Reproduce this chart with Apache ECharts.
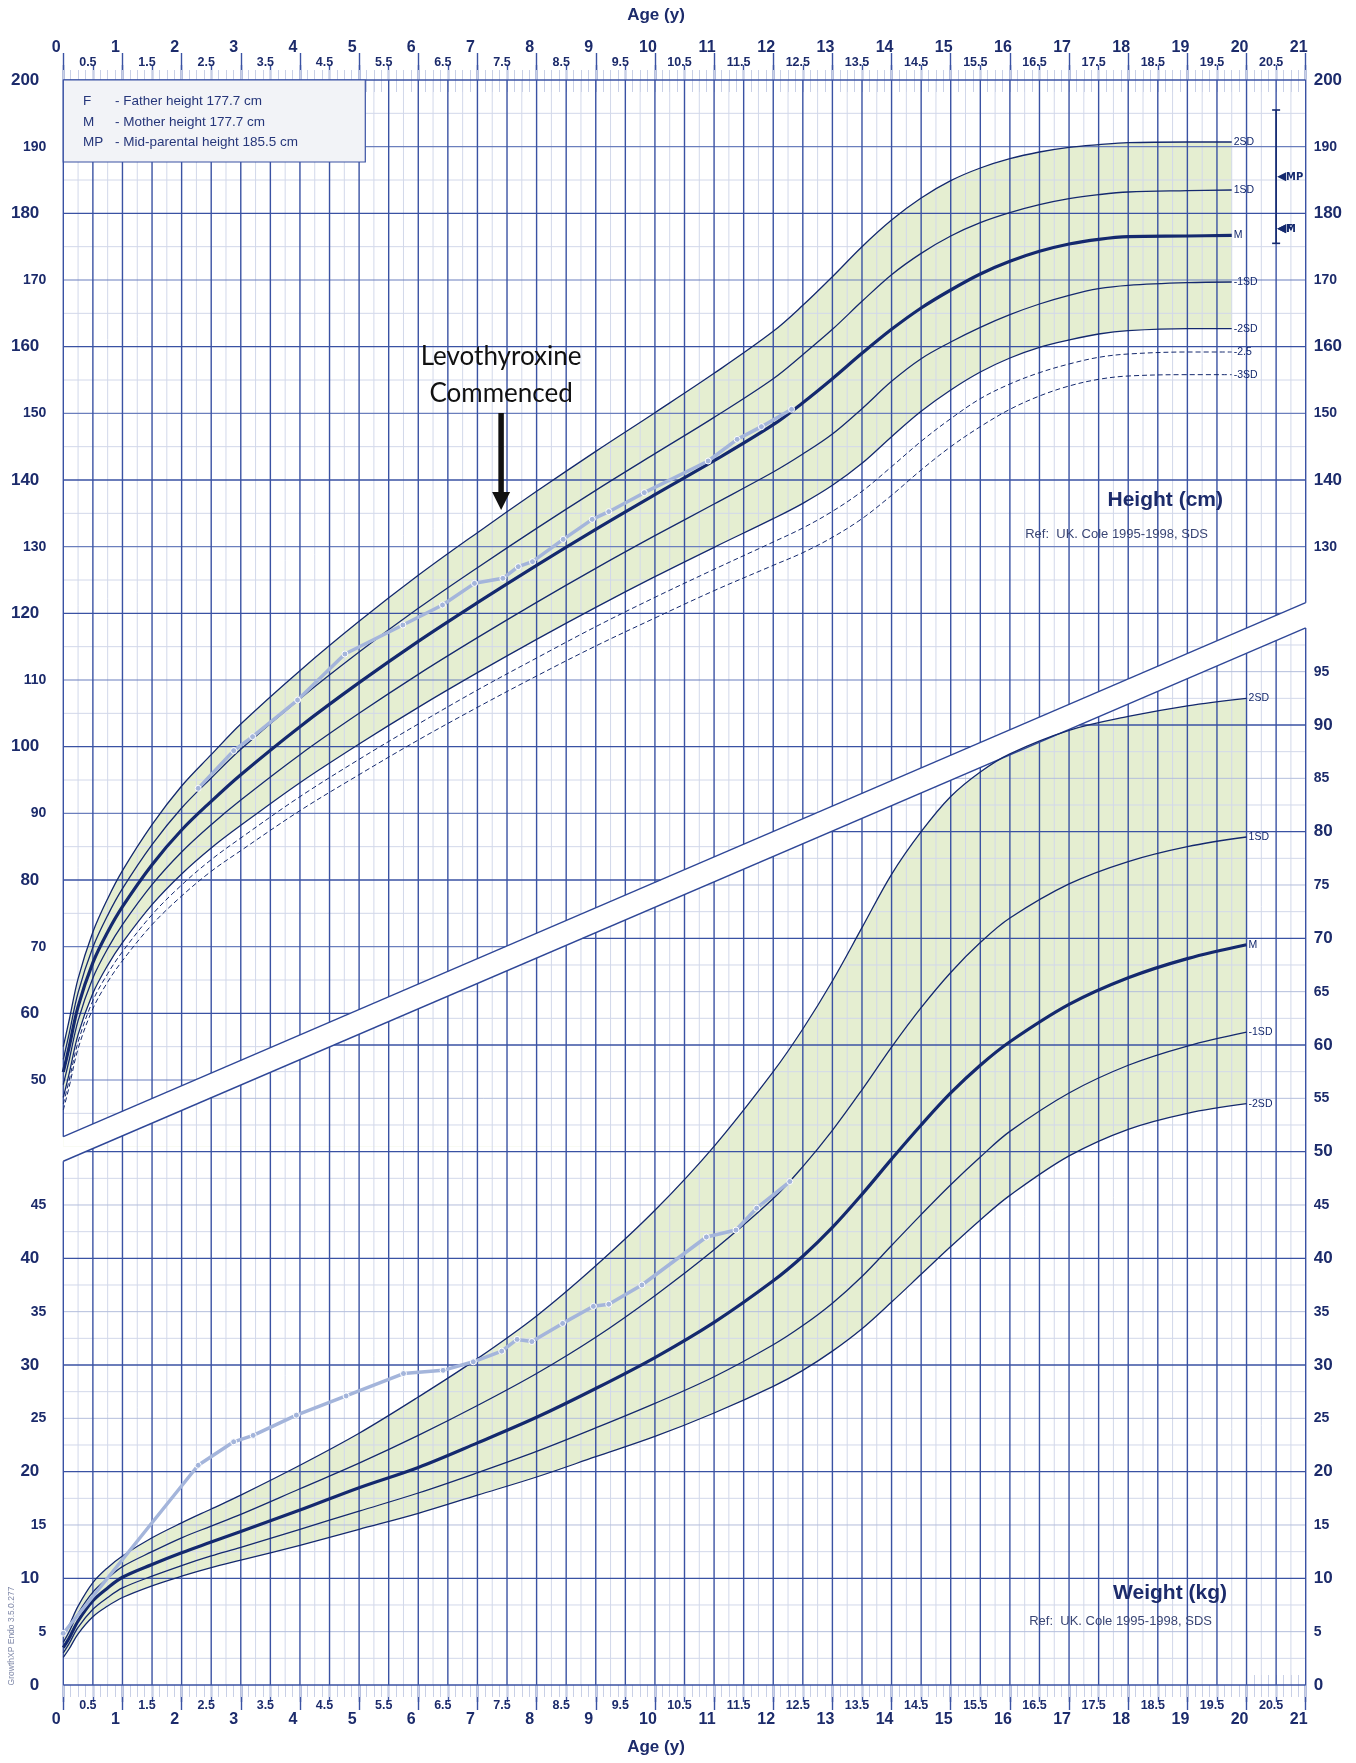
<!DOCTYPE html>
<html><head><meta charset="utf-8">
<script src="https://cdn.jsdelivr.net/npm/echarts@6/dist/echarts.min.js"></script>
<style>html,body{margin:0;padding:0;background:#fff}#c{width:1356px;height:1763px}</style>
</head><body><div id="c"></div><script>
// ---------- DATA ----------
const hAge = [0, 0.1, 0.25, 0.5, 0.75, 1, 1.5, 2, 2.5, 3, 4, 5, 6, 7, 8, 9, 10, 11, 12, 12.5, 13, 13.5, 14, 14.5, 15, 15.5, 16, 16.5, 17, 17.5, 18, 19, 19.75];
const hP2  = [55.0, 59.0, 65.2, 72.2, 77.2, 81.4, 88.3, 94.1, 98.8, 103.4, 111.4, 118.8, 125.7, 132.1, 138.3, 144.3, 150.1, 156.0, 162.3, 166.2, 170.5, 175.0, 179.0, 182.3, 184.9, 186.8, 188.2, 189.2, 189.9, 190.3, 190.6, 190.7, 190.7];
const hP1  = [53.1, 57.0, 63.1, 69.9, 74.7, 78.7, 85.3, 90.8, 95.3, 99.6, 107.2, 114.2, 120.75, 126.85, 132.75, 138.45, 143.95, 149.4, 155.2, 158.8, 162.6, 166.8, 170.8, 174.0, 176.6, 178.6, 180.1, 181.3, 182.2, 182.8, 183.2, 183.4, 183.5];
const hM   = [51.2, 55.0, 61.0, 67.6, 72.2, 76.0, 82.3, 87.5, 91.8, 95.8, 103.0, 109.6, 115.8, 121.6, 127.2, 132.6, 137.8, 142.9, 148.3, 151.6, 155.2, 159.0, 162.6, 165.8, 168.5, 170.9, 172.8, 174.3, 175.4, 176.1, 176.5, 176.6, 176.7];
const hN1  = [49.3, 53.0, 58.9, 65.3, 69.7, 73.3, 79.3, 84.2, 88.3, 92.0, 98.8, 105.0, 110.85, 116.35, 121.65, 126.75, 131.65, 136.4, 141.2, 143.9, 146.9, 150.7, 154.8, 158.2, 160.7, 162.9, 164.8, 166.4, 167.7, 168.7, 169.2, 169.6, 169.7];
const hN2  = [47.4, 51.0, 56.8, 63.0, 67.2, 70.6, 76.3, 80.9, 84.8, 88.2, 94.6, 100.4, 105.9, 111.1, 116.1, 120.9, 125.5, 129.9, 134.2, 136.5, 139.2, 142.5, 146.5, 150.3, 153.5, 156.2, 158.3, 159.9, 161.0, 161.9, 162.4, 162.7, 162.7];
const hN25 = [46.4, 50.0, 55.7, 61.9, 65.95, 69.25, 74.8, 79.25, 83.05, 86.3, 92.5, 98.1, 103.4, 108.5, 113.3, 118.0, 122.4, 126.6, 130.7, 132.8, 135.3, 138.3, 142.0, 145.8, 149.2, 152.2, 154.4, 156.1, 157.4, 158.4, 158.9, 159.2, 159.2];
const hN3  = [45.5, 49.0, 54.7, 60.7, 64.7, 67.9, 73.3, 77.6, 81.3, 84.4, 90.4, 95.8, 101.0, 105.9, 110.6, 115.1, 119.3, 123.4, 127.2, 129.1, 131.4, 134.2, 137.7, 141.5, 145.0, 148.0, 150.6, 152.6, 154.1, 155.1, 155.6, 155.8, 155.8];

const wAge = [0, 0.1, 0.25, 0.5, 0.75, 1, 1.5, 2, 2.5, 3, 4, 5, 6, 7, 8, 9, 10, 11, 12, 12.5, 13, 13.5, 14, 14.5, 15, 15.5, 16, 17, 18, 19, 20];
const wP2 = [4.5, 5.6, 7.4, 9.6, 11.0, 12.1, 13.8, 15.2, 16.5, 17.8, 20.6, 23.6, 27.0, 30.6, 34.6, 39.3, 44.5, 50.5, 57.5, 61.5, 66.0, 71.0, 76.0, 80.0, 83.3, 85.6, 87.3, 89.5, 90.8, 91.8, 92.5];
const wP1 = [4.0, 5.0, 6.7, 8.7, 10.0, 11.1, 12.5, 13.8, 14.9, 16.0, 18.4, 20.8, 23.4, 26.2, 29.2, 32.6, 36.5, 40.8, 45.6, 48.6, 52.0, 55.8, 59.8, 63.5, 66.8, 69.6, 71.9, 75.1, 77.2, 78.6, 79.5];
const wM  = [3.5, 4.4, 6.0, 7.9, 9.1, 10.1, 11.3, 12.4, 13.4, 14.4, 16.4, 18.5, 20.4, 22.7, 25.1, 27.8, 30.7, 34.0, 37.9, 40.2, 42.9, 46.0, 49.3, 52.5, 55.5, 58.1, 60.3, 63.8, 66.3, 68.1, 69.4];
const wN1 = [3.0, 3.9, 5.4, 7.1, 8.2, 9.1, 10.2, 11.2, 12.1, 12.9, 14.6, 16.3, 18.0, 19.9, 21.9, 24.1, 26.4, 28.9, 31.9, 33.7, 35.8, 38.3, 41.2, 44.1, 46.9, 49.5, 51.9, 55.5, 58.1, 59.9, 61.2];
const wN2 = [2.6, 3.4, 4.8, 6.4, 7.4, 8.2, 9.3, 10.2, 11.0, 11.7, 13.1, 14.6, 16.1, 17.8, 19.5, 21.4, 23.3, 25.5, 28.0, 29.5, 31.3, 33.4, 35.9, 38.5, 41.1, 43.6, 45.9, 49.6, 52.1, 53.6, 54.5];

const ptHAge = [2.28, 2.88, 3.2, 3.96, 4.76, 5.74, 6.41, 6.95, 7.43, 7.69, 7.93, 8.45, 8.94, 9.22, 9.82, 10.9, 11.39, 11.8, 12.31];
const ptH    = [93.75, 99.4, 101.5, 107.0, 113.9, 118.25, 121.25, 124.5, 125.25, 127.0, 127.75, 131.1, 134.1, 135.25, 138.1, 142.85, 146.1, 148.0, 150.6];
const ptWAge = [0, 2.28, 2.88, 3.21, 3.94, 4.78, 5.75, 6.42, 6.93, 7.41, 7.67, 7.92, 8.44, 8.96, 9.22, 9.78, 10.87, 11.37, 11.72, 12.28];
const ptW    = [4.85, 20.6, 22.8, 23.4, 25.3, 27.1, 29.2, 29.5, 30.3, 31.3, 32.4, 32.2, 33.9, 35.5, 35.7, 37.5, 42.0, 42.65, 44.7, 47.2];

// chart structure
const bandTopH = [[0, 41.5], [21, 121.6]];     // upper edge of the white band (height scale)
const bandBottomW = [[0, 49.1], [21, 99.1]];   // lower edge of the white band (weight scale)
const parentMarks = [{name: 'MP', h: 185.5}, {name: 'F', h: 177.7}, {name: 'M', h: 177.7}];
const mpRange = [175.5, 195.5];
const markerAge = 20.5;
const legendRows = [['F', '- Father height 177.7 cm'], ['M', '- Mother height 177.7 cm'], ['MP', '- Mid-parental height 185.5 cm']];
const levoAge = 7.4, levoTipH = 135.5;

// ---------- STYLE ----------
const FF = '"Liberation Sans", Arial, sans-serif';
const NAVY = '#1c2b6b';
const CURVE = '#14296e';
const GREEN = '#e5eed1';
const PATIENT = '#a4b5db';
const SMOOTH = 0.35;
const GS = [
  {stroke: '#3a52a3', lineWidth: 1.4},
  {stroke: '#6b7fbd', lineWidth: 1.1},
  {stroke: '#b4bedc', lineWidth: 1},
  {stroke: '#d2d8ea', lineWidth: 1}
];

function zip(xs, ys) { return xs.map((x, i) => [x, ys[i]]); }

const bT0 = bandTopH[0][1], bT1 = bandTopH[1][1];
const bB0 = bandBottomW[0][1], bB1 = bandBottomW[1][1];

// grid-line definitions: [x, y, class, kind(0=horizontal,1=vertical)]
const hLines = [], wLines = [];
for (let h = 45; h <= 200; h += 5) hLines.push([0, h, h % 20 === 0 ? 0 : (h % 10 === 0 ? 1 : 3), 0]);
for (let i = 0; i <= 84; i++) { const a = i * 0.25; hLines.push([a, 200, i % 2 === 0 ? 0 : 3, 1]); wLines.push([a, 0, i % 2 === 0 ? 0 : 3, 1]); }
for (let i = 0; i <= 40; i++) { const w = i * 2.5; wLines.push([0, w, w % 10 === 0 ? 0 : (w % 5 === 0 ? 2 : 3), 0]); }
hLines.sort((a, b) => b[2] - a[2]);
wLines.sort((a, b) => b[2] - a[2]);

function seg(api, a, b, st) {
  const p = api.coord(a), q = api.coord(b);
  return {type: 'line', shape: {x1: p[0], y1: p[1], x2: q[0], y2: q[1]}, style: st};
}

const chart = echarts.init(document.getElementById('c'));

const topBase = {gridIndex: 0, type: 'value', min: 0, max: 21, position: 'top', axisLine: {show: false, onZero: false}, splitLine: {show: false}};
const botBase = {gridIndex: 1, type: 'value', min: 0, max: 21, position: 'bottom', axisLine: {show: false, onZero: false}, splitLine: {show: false}};
const intLbl = {fontSize: 16, fontWeight: 'bold', color: NAVY, fontFamily: FF, padding: [0, 14, 0, 0]};
const halfLbl = {fontSize: 12.5, fontWeight: 'bold', color: NAVY, fontFamily: FF, padding: [0, 10, 0, 0],
  formatter: v => (Math.abs(v % 1) < 1e-9) ? '' : String(v)};
const darkTick = {color: '#3a52a3', width: 1.4};
const lightTick = {color: '#c9d0e6', width: 1};

function yLbl(limitFn, side) {
  const leftSide = side === 'h' || side === 'w';
  const bigStep = (side === 'h' || side === 'hr') ? 20 : 10;
  return {
    margin: leftSide ? 17 : 8,
    formatter: v => limitFn(v) ? '' : (v % bigStep === 0 ? '{b|' + v + '}' : '{s|' + v + '}'),
    rich: {
      b: {fontSize: 17, fontWeight: 'bold', color: NAVY, fontFamily: FF, padding: leftSide ? [0, 7, 0, 0] : 0},
      s: {fontSize: 14, fontWeight: 'bold', color: NAVY, fontFamily: FF}
    }
  };
}
const yBase = {type: 'value', axisLine: {show: false}, axisTick: {show: false}, splitLine: {show: false}};

function curve(name, xs, ys, g, opt) {
  opt = opt || {};
  return {
    type: 'line', name: name, xAxisIndex: g ? 4 : 0, yAxisIndex: g ? 2 : 0,
    data: zip(xs, ys), smooth: SMOOTH, symbol: 'none', z: 4, silent: true,
    lineStyle: {color: CURVE, width: opt.width || 1.3, type: opt.dash ? [5, 3] : 'solid'},
    endLabel: {show: true, formatter: opt.label, color: CURVE, fontSize: 10.5, fontFamily: FF, distance: 2}
  };
}
function areaFill(xs, ys, g, color) {
  return {
    type: 'line', xAxisIndex: g ? 4 : 0, yAxisIndex: g ? 2 : 0, data: zip(xs, ys), smooth: SMOOTH,
    symbol: 'none', z: 1, silent: true, lineStyle: {width: 0, opacity: 0},
    areaStyle: {color: color, opacity: 1, origin: 'start'}
  };
}
function patient(xs, ys, g) {
  return {type: 'line', xAxisIndex: g ? 4 : 0, yAxisIndex: g ? 2 : 0, data: zip(xs, ys), z: 5,
    symbol: 'circle', symbolSize: 6, silent: true,
    lineStyle: {color: PATIENT, width: 3.5},
    itemStyle: {color: PATIENT, borderColor: '#ffffff', borderWidth: 1}};
}

const option = {
  animation: false,
  grid: [
    {left: 63.3, top: 80, width: 1242.4, height: 1066.67},
    {left: 63.3, top: 618.33, width: 1242.4, height: 1066.67}
  ],
  xAxis: [
    Object.assign({}, topBase, {interval: 1, axisTick: {length: 27, lineStyle: darkTick}, axisLabel: Object.assign({margin: 24}, intLbl)}),
    Object.assign({}, topBase, {interval: 0.5, axisTick: {length: 15, lineStyle: darkTick}, axisLabel: Object.assign({margin: 11}, halfLbl)}),
    Object.assign({}, topBase, {interval: 0.125, axisTick: {length: 10, lineStyle: lightTick}, axisLabel: {show: false}}),
    Object.assign({}, topBase, {interval: 0.125, axisTick: {inside: true, length: 12, lineStyle: lightTick}, axisLabel: {show: false}}),
    Object.assign({}, botBase, {interval: 1, axisTick: {length: 25, lineStyle: darkTick}, axisLabel: Object.assign({margin: 27}, intLbl)}),
    Object.assign({}, botBase, {interval: 0.5, axisTick: {length: 17, lineStyle: darkTick}, axisLabel: Object.assign({margin: 14}, halfLbl)}),
    Object.assign({}, botBase, {interval: 0.125, axisTick: {length: 12, lineStyle: lightTick}, axisLabel: {show: false}}),
    Object.assign({}, botBase, {interval: 0.125, axisTick: {inside: true, length: 10, lineStyle: lightTick}, axisLabel: {show: false}})
  ],
  yAxis: [
    Object.assign({}, yBase, {gridIndex: 0, min: 40, max: 200, interval: 10, position: 'left', axisLabel: yLbl(v => v < 50, 'h')}),
    Object.assign({}, yBase, {gridIndex: 0, min: 40, max: 200, interval: 10, position: 'right', axisLabel: yLbl(v => v < 130, 'hr')}),
    Object.assign({}, yBase, {gridIndex: 1, min: 0, max: 100, interval: 5, position: 'left', axisLabel: yLbl(v => v > 45, 'w')}),
    Object.assign({}, yBase, {gridIndex: 1, min: 0, max: 100, interval: 5, position: 'right', axisLabel: yLbl(v => v > 95, 'wr')})
  ],
  series: [
    // green +/-2SD fills (green under +2SD, then white under -2SD)
    areaFill(hAge, hP2, 0, GREEN),
    areaFill(hAge, hN2, 0, '#ffffff'),
    areaFill(wAge, wP2, 1, GREEN),
    areaFill(wAge, wN2, 1, '#ffffff'),
    // grid lines, height part
    {type: 'custom', xAxisIndex: 0, yAxisIndex: 0, z: 2, silent: true, clip: false, encode: {x: 0, y: 1}, data: hLines,
      renderItem: (p, api) => {
        const x = api.value(0), y = api.value(1), c = api.value(2), k = api.value(3);
        if (k === 0) { const xe = Math.min(21, (y - bT0) * 21 / (bT1 - bT0)); if (xe <= 0) return null; return seg(api, [0, y], [xe, y], GS[c]); }
        const hb = bT0 + (bT1 - bT0) * x / 21; return seg(api, [x, 200], [x, hb], GS[c]);
      }},
    // grid lines, weight part
    {type: 'custom', xAxisIndex: 4, yAxisIndex: 2, z: 2, silent: true, clip: false, encode: {x: 0, y: 1}, data: wLines,
      renderItem: (p, api) => {
        const x = api.value(0), y = api.value(1), c = api.value(2), k = api.value(3);
        if (k === 0) { const xs = Math.max(0, (y - bB0) * 21 / (bB1 - bB0)); if (xs >= 21) return null; return seg(api, [xs, y], [21, y], GS[c]); }
        const wb = bB0 + (bB1 - bB0) * x / 21; return seg(api, [x, 0], [x, wb], GS[c]);
      }},
    // band edges
    {type: 'line', xAxisIndex: 0, yAxisIndex: 0, data: bandTopH, symbol: 'none', z: 3, silent: true, lineStyle: {color: '#2f4797', width: 1.4}},
    {type: 'line', xAxisIndex: 4, yAxisIndex: 2, data: bandBottomW, symbol: 'none', z: 3, silent: true, lineStyle: {color: '#2f4797', width: 1.4}},
    // height reference curves
    curve('h2', hAge, hP2, 0, {label: '2SD'}),
    curve('h1', hAge, hP1, 0, {label: '1SD'}),
    curve('hM', hAge, hM, 0, {label: 'M', width: 3.2}),
    curve('hn1', hAge, hN1, 0, {label: '-1SD'}),
    curve('hn2', hAge, hN2, 0, {label: '-2SD'}),
    curve('hn25', hAge, hN25, 0, {label: '-2.5', dash: true, width: 1}),
    curve('hn3', hAge, hN3, 0, {label: '-3SD', dash: true, width: 1}),
    // weight reference curves
    curve('w2', wAge, wP2, 1, {label: '2SD'}),
    curve('w1', wAge, wP1, 1, {label: '1SD'}),
    curve('wM', wAge, wM, 1, {label: 'M', width: 3.2}),
    curve('wn1', wAge, wN1, 1, {label: '-1SD'}),
    curve('wn2', wAge, wN2, 1, {label: '-2SD'}),
    // patient
    patient(ptHAge, ptH, 0),
    patient(ptWAge, ptW, 1),
    // parental height markers
    {type: 'custom', xAxisIndex: 0, yAxisIndex: 0, z: 6, silent: true, clip: false, data: [[markerAge, mpRange[0]]],
      renderItem: (p, api) => {
        const a = api.coord([markerAge, mpRange[0]]), b = api.coord([markerAge, mpRange[1]]);
        const st = {stroke: CURVE, lineWidth: 1.6};
        const ch = [
          {type: 'line', shape: {x1: a[0], y1: a[1], x2: b[0], y2: b[1]}, style: st},
          {type: 'line', shape: {x1: a[0] - 4, y1: a[1], x2: a[0] + 4, y2: a[1]}, style: st},
          {type: 'line', shape: {x1: b[0] - 4, y1: b[1], x2: b[0] + 4, y2: b[1]}, style: st}
        ];
        parentMarks.forEach(m => {
          const q = api.coord([markerAge, m.h]);
          ch.push({type: 'polygon', shape: {points: [[q[0] + 1, q[1]], [q[0] + 10, q[1] - 4.5], [q[0] + 10, q[1] + 4.5]]}, style: {fill: CURVE}});
          ch.push({type: 'text', style: {text: m.name, x: q[0] + 10, y: q[1], verticalAlign: 'middle', font: 'bold 11px "Liberation Sans Narrow", "DejaVu Sans Condensed", sans-serif', fill: CURVE}});
        });
        return {type: 'group', children: ch};
      }}
  ]
};
chart.setOption(option);

// ---------- annotations & texts ----------
const tip = chart.convertToPixel({xAxisIndex: 0, yAxisIndex: 0}, [levoAge, levoTipH]);
const g = [];
g.push({type: 'rect', z: 100, shape: {x: 63.3, y: 80, width: 302, height: 82}, style: {fill: '#f2f3f7', stroke: '#3a52a3', lineWidth: 1.2}});
legendRows.forEach((r, i) => {
  const y = 101.7 + i * 20.5;
  g.push({type: 'text', z: 101, style: {text: r[0], x: 83, y: y, verticalAlign: 'middle', font: '13.5px ' + FF, fill: '#26367a'}});
  g.push({type: 'text', z: 101, style: {text: r[1], x: 115, y: y, verticalAlign: 'middle', font: '13.5px ' + FF, fill: '#26367a'}});
});
g.push({type: 'text', z: 101, style: {text: 'Age (y)', x: 656, y: 15, align: 'center', verticalAlign: 'middle', font: 'bold 17px ' + FF, fill: NAVY}});
g.push({type: 'text', z: 101, style: {text: 'Age (y)', x: 656, y: 1747, align: 'center', verticalAlign: 'middle', font: 'bold 17px ' + FF, fill: NAVY}});
g.push({type: 'text', z: 101, style: {text: 'Height (cm)', x: 1223, y: 500.7, align: 'right', verticalAlign: 'middle', font: 'bold 21px ' + FF, fill: NAVY}});
g.push({type: 'text', z: 101, style: {text: 'Ref:  UK. Cole 1995-1998, SDS', x: 1208, y: 534, align: 'right', verticalAlign: 'middle', font: '13px ' + FF, fill: '#3a4675'}});
g.push({type: 'text', z: 101, style: {text: 'Weight (kg)', x: 1227, y: 1593.3, align: 'right', verticalAlign: 'middle', font: 'bold 21px ' + FF, fill: NAVY}});
g.push({type: 'text', z: 101, style: {text: 'Ref:  UK. Cole 1995-1998, SDS', x: 1212, y: 1621, align: 'right', verticalAlign: 'middle', font: '13px ' + FF, fill: '#3a4675'}});
g.push({type: 'text', z: 101, rotation: Math.PI / 2, x: 12, y: 1636, style: {text: 'GrowthXP Endo 3.5.0.277', x: 0, y: 0, align: 'center', verticalAlign: 'middle', font: '8.5px ' + FF, fill: '#7f88a8'}});
// Levothyroxine annotation
g.push({type: 'text', z: 101, style: {text: 'Levothyroxine', x: tip[0], y: tip[1] - 153, align: 'center', verticalAlign: 'middle', font: '26px Lato, "Open Sans", sans-serif', fill: '#111'}});
g.push({type: 'text', z: 101, style: {text: 'Commenced', x: tip[0], y: tip[1] - 116, align: 'center', verticalAlign: 'middle', font: '26px Lato, "Open Sans", sans-serif', fill: '#111'}});
g.push({type: 'line', z: 101, shape: {x1: tip[0], y1: tip[1] - 97, x2: tip[0], y2: tip[1] - 16}, style: {stroke: '#111', lineWidth: 5.5}});
g.push({type: 'polygon', z: 101, shape: {points: [[tip[0] - 9, tip[1] - 18], [tip[0] + 9, tip[1] - 18], [tip[0], tip[1]]]}, style: {fill: '#111'}});
chart.setOption({graphic: g});
</script></body></html>
